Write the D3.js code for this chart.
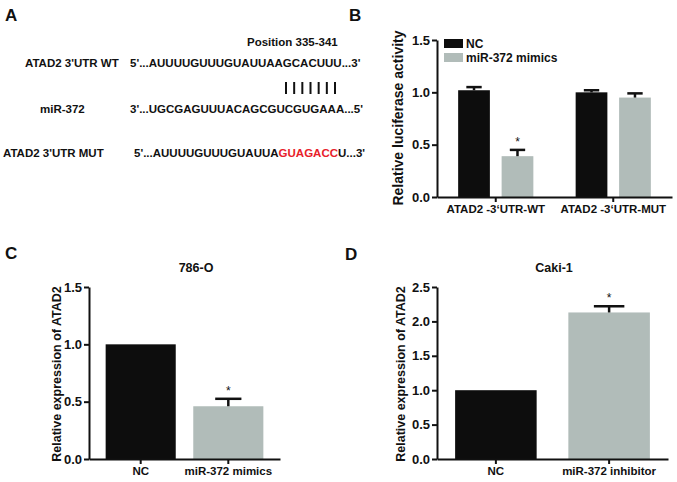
<!DOCTYPE html>
<html>
<head>
<meta charset="utf-8">
<script src="https://cdn.jsdelivr.net/npm/d3@7"></script>
<style>
  body { margin: 0; background: #fff; }
  svg text { font-family: "Liberation Sans", Arial, sans-serif; font-weight: bold; fill: #111; }
  .axis path, .axis line { stroke: #111; stroke-width: 2; }
</style>
</head>
<body>
<div id="chart"></div>
<script>
// panel A: sequence alignment
const seqLabels = ["ATAD2 3'UTR WT", "miR-372", "ATAD2 3'UTR MUT"];
const seqParts = [
  [["5'...AUUUUGUUUGUAUUAAGCACUUU...3'", "#111"]],
  [["3'...UGCGAGUUUACAGCGUCGUGAAA...5'", "#111"]],
  [["5'...AUUUUGUUUGUAUUA", "#111"], ["GUAGACC", "#e8202a"], ["U...3'", "#111"]]
];
const positionLabel = "Position 335-341";
const pairCount = 7;

// panel B: luciferase
const lucGroups = ["ATAD2 -3\u2018UTR-WT", "ATAD2 -3\u2018UTR-MUT"];
const lucSeries = ["NC", "miR-372 mimics"];
const lucValues = [[1.02, 0.39], [1.00, 0.95]];
const lucErrors = [[0.03, 0.06], [0.02, 0.04]];
const lucStars = [[false, true], [false, false]];
const lucTicks = [0, 0.5, 1.0, 1.5];

// panel C: 786-O
const cCats = ["NC", "miR-372 mimics"];
const cValues = [1.0, 0.46];
const cErrors = [0, 0.065];
const cStars = [false, true];
const cTicks = [0, 0.5, 1.0, 1.5];

// panel D: Caki-1
const dCats = ["NC", "miR-372 inhibitor"];
const dValues = [1.0, 2.13];
const dErrors = [0, 0.09];
const dStars = [false, true];
const dTicks = [0, 0.5, 1.0, 1.5, 2.0, 2.5];

const colors = ["#0d0d0d", "#b1bcb9"];

const svg = d3.select("#chart").append("svg").attr("width", 677).attr("height", 482);

// panel letters
[["A", 5, 21], ["B", 349, 21], ["C", 5, 259], ["D", 345, 260]].forEach(p => {
  svg.append("text").text(p[0]).attr("x", p[1]).attr("y", p[2]).style("font-size", "17px");
});

// ---- panel A ----
const rowY = [67, 113, 157];
const labelX = [25, 40, 3];
const seqX = [130, 130, 134];
seqLabels.forEach((l, i) => {
  svg.append("text").text(l).attr("x", labelX[i]).attr("y", rowY[i]).style("font-size", "11.5px");
  const t = svg.append("text").attr("x", seqX[i]).attr("y", rowY[i]).style("font-size", "11.5px");
  seqParts[i].forEach(p => t.append("tspan").text(p[0]).style("fill", p[1]));
});
svg.append("text").text(positionLabel).attr("x", 247).attr("y", 46).style("font-size", "11.5px");
const pairX = d3.scalePoint().domain(d3.range(pairCount)).range([286, 335]);
svg.append("g").selectAll("line").data(d3.range(pairCount)).join("line")
  .attr("x1", d => pairX(d)).attr("x2", d => pairX(d))
  .attr("y1", 82).attr("y2", 94)
  .attr("stroke", "#111").attr("stroke-width", 2);

// shared helpers
function yAxis(g, y, ticks, x) {
  g.append("g").attr("class", "axis").attr("transform", `translate(${x},0)`)
    .call(d3.axisLeft(y).tickValues(ticks).tickSize(5).tickSizeOuter(0).tickFormat(d3.format(".1f")).tickPadding(2))
    .call(s => s.selectAll("text").style("font-size", "13px").style("font-family", null));
}
function xAxis(g, x, y0, labels) {
  g.append("g").attr("class", "axis").attr("transform", `translate(0,${y0})`)
    .call(d3.axisBottom(x).tickSize(5).tickSizeOuter(0).tickPadding(3).tickFormat(i => labels[i]))
    .call(s => s.selectAll("text").style("font-size", "11.5px").style("font-family", null));
}
function yTitle(g, text, cx, cy, size) {
  g.append("text").text(text).attr("text-anchor", "middle")
    .attr("transform", `translate(${cx},${cy}) rotate(-90)`).style("font-size", size);
}
function errorBar(g, cx, bw, yTop, yBar, star) {
  const half = bw * 0.22;
  g.append("line").attr("x1", cx).attr("x2", cx).attr("y1", yBar).attr("y2", yTop)
    .attr("stroke", "#111").attr("stroke-width", 2.5);
  g.append("line").attr("x1", cx - half).attr("x2", cx + half).attr("y1", yTop).attr("y2", yTop)
    .attr("stroke", "#111").attr("stroke-width", 2.5);
  if (star) g.append("text").text("*").attr("x", cx).attr("y", yTop - 4)
    .attr("text-anchor", "middle").style("font-size", "12px").style("font-weight", "normal");
}

// ---- panel B ----
const gB = svg.append("g");
const yB = d3.scaleLinear().domain([0, 1.5]).range([197, 40]);
const xB = d3.scaleBand().domain(d3.range(lucGroups.length)).range([437, 672]).paddingInner(0.36).paddingOuter(0.18);
const xBs = d3.scaleBand().domain(d3.range(lucSeries.length)).range([0, xB.bandwidth()]).paddingInner(0.27);
lucValues.forEach((vals, gi) => {
  vals.forEach((v, si) => {
    const x0 = xB(gi) + xBs(si);
    gB.append("rect").attr("x", x0).attr("y", yB(v)).attr("width", xBs.bandwidth())
      .attr("height", yB(0) - yB(v)).attr("fill", colors[si]);
    errorBar(gB, x0 + xBs.bandwidth() / 2, xBs.bandwidth() * 1.1, yB(v + lucErrors[gi][si]), yB(v), lucStars[gi][si]);
  });
});
yAxis(gB, yB, lucTicks, 437);
xAxis(gB, xB, 197, lucGroups);
yTitle(gB, "Relative luciferase activity", 403, 118, "14px");
const legB = gB.append("g");
lucSeries.forEach((s, i) => {
  legB.append("rect").attr("x", 444).attr("y", 39 + i * 14).attr("width", 19).attr("height", 9).attr("fill", colors[i]);
  legB.append("text").text(s).attr("x", 466).attr("y", 48 + i * 14).style("font-size", "12px");
});

// ---- simple panels C and D ----
function simplePanel(cats, values, errors, stars, ticks, x0, x1, yMax, title, titleX, bandOpts, titleGap) {
  const g = svg.append("g");
  const y = d3.scaleLinear().domain([0, yMax]).range([459, 287]);
  const x = d3.scaleBand().domain(d3.range(cats.length)).range([x0, x1])
    .paddingInner(bandOpts[0]).paddingOuter(bandOpts[1]);
  values.forEach((v, i) => {
    g.append("rect").attr("x", x(i)).attr("y", y(v)).attr("width", x.bandwidth())
      .attr("height", y(0) - y(v)).attr("fill", colors[i]);
    if (errors[i] > 0) errorBar(g, x(i) + x.bandwidth() / 2, x.bandwidth() * 0.85, y(v + errors[i]), y(v), stars[i]);
  });
  yAxis(g, y, ticks, x0);
  xAxis(g, x, 459, cats);
  g.append("text").text(title).attr("x", titleX).attr("y", 272).attr("text-anchor", "middle").style("font-size", "12.5px");
  yTitle(g, "Relative expression of ATAD2", x0 - titleGap, 374, "12.5px");
}
simplePanel(cCats, cValues, cErrors, cStars, cTicks, 89, 280, 1.5, "786-O", 196, [0.2, 0.19], 28);
simplePanel(dCats, dValues, dErrors, dStars, dTicks, 437, 668, 2.5, "Caki-1", 554, [0.28, 0.16], 32);
</script>
</body>
</html>
